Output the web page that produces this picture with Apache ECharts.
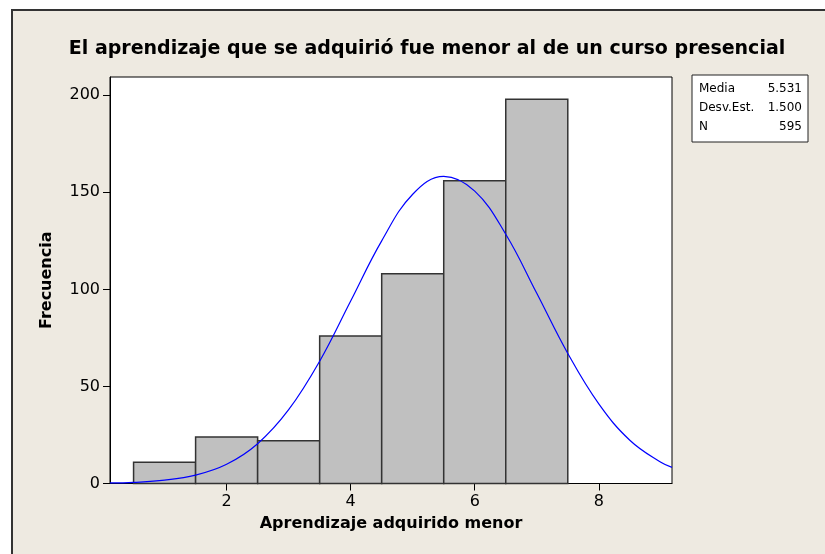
<!DOCTYPE html>
<html>
<head>
<meta charset="utf-8">
<script src="https://cdn.jsdelivr.net/npm/echarts@6/dist/echarts.min.js"></script>
<style>
html, body { margin: 0; padding: 0; background: #fff; }
#chart { width: 825px; height: 554px; }
</style>
</head>
<body>
<div id="chart"></div>
<script>
// histograma: centro de cada clase y frecuencia
var centros = [1, 2, 3, 4, 5, 6, 7];
var frecuencias = [11, 24, 22, 76, 108, 156, 198];

// curva normal ajustada
var curvaX = [0.12, 0.5, 1, 1.5, 2, 2.5, 3, 3.5, 4, 4.5, 5, 5.5, 6, 6.5, 7, 7.5, 8, 8.5, 9, 9.18];
var curvaY = [0.3, 0.6, 1.7, 4.3, 9.9, 20.5, 38, 63, 94, 125, 149, 158.2, 150.6, 128.4, 98, 67, 41, 22.3, 10.9, 8.3];

var ticksX = [2, 4, 6, 8];
var ticksY = [0, 50, 100, 150, 200];

var estadisticas = [
    ['Media', '5.531'],
    ['Desv.Est.', '1.500'],
    ['N', '595']
];

var myChart = echarts.init(document.getElementById('chart'));

var datosBarras = [];
for (var i = 0; i < centros.length; i++) {
    datosBarras.push([centros[i], frecuencias[i]]);
}
var datosCurva = [];
for (var j = 0; j < curvaX.length; j++) {
    datosCurva.push([curvaX[j], curvaY[j]]);
}

// cuadro de estadisticas
var cuadro = [{
    type: 'rect',
    shape: { x: 692, y: 75, width: 116, height: 67 },
    style: { fill: '#fff', stroke: '#222', lineWidth: 1 }
}];
for (var k = 0; k < estadisticas.length; k++) {
    cuadro.push({
        type: 'text', x: 699, y: 89 + k * 19,
        style: { text: estadisticas[k][0], font: '12px "DejaVu Sans"', fill: '#000', verticalAlign: 'middle' }
    });
    cuadro.push({
        type: 'text', x: 802, y: 89 + k * 19,
        style: { text: estadisticas[k][1], font: '12px "DejaVu Sans"', fill: '#000', align: 'right', verticalAlign: 'middle' }
    });
}

var option = {
    backgroundColor: '#fff',
    animation: false,
    graphic: [{
        type: 'rect',
        z: -10,
        shape: { x: 12, y: 10, width: 830, height: 560 },
        style: { fill: '#EEEAE1', stroke: '#333', lineWidth: 2 }
    }].concat(cuadro),
    title: {
        text: 'El aprendizaje que se adquirió fue menor al de un curso presencial',
        left: 422,
        top: 35,
        textAlign: 'center',
        textStyle: { fontFamily: 'DejaVu Sans', fontWeight: 'bold', fontSize: 19, color: '#000' }
    },
    grid: {
        left: 110, top: 77, right: 153, bottom: 70.5,
        show: true, backgroundColor: '#fff', borderColor: '#000', borderWidth: 1
    },
    xAxis: {
        type: 'value',
        min: 0.12,
        max: 9.18,
        name: 'Aprendizaje adquirido menor',
        nameLocation: 'middle',
        nameGap: 32,
        nameTextStyle: { fontFamily: 'DejaVu Sans', fontWeight: 'bold', fontSize: 16, color: '#000' },
        splitLine: { show: false },
        axisLine: { show: true, lineStyle: { color: '#000' } },
        axisTick: { show: true, inside: false, length: 7, customValues: ticksX, lineStyle: { color: '#000' } },
        axisLabel: { customValues: ticksX, fontFamily: 'DejaVu Sans', fontSize: 16, color: '#000', margin: 10 }
    },
    yAxis: {
        type: 'value',
        min: 0,
        max: 209.4,
        name: 'Frecuencia',
        nameLocation: 'middle',
        nameGap: 55,
        nameTextStyle: { fontFamily: 'DejaVu Sans', fontWeight: 'bold', fontSize: 16, color: '#000' },
        splitLine: { show: false },
        axisLine: { show: true, lineStyle: { color: '#000' } },
        axisTick: { show: true, inside: false, length: 7, customValues: ticksY, lineStyle: { color: '#000' } },
        axisLabel: { customValues: ticksY, fontFamily: 'DejaVu Sans', fontSize: 16, color: '#000', margin: 10 }
    },
    series: [{
        type: 'custom',
        data: datosBarras,
        renderItem: function (params, api) {
            var izq = api.coord([api.value(0) - 0.5, api.value(1)]);
            var der = api.coord([api.value(0) + 0.5, 0]);
            return {
                type: 'rect',
                shape: { x: izq[0], y: izq[1], width: der[0] - izq[0], height: der[1] - izq[1] },
                style: { fill: '#C0C0C0', stroke: '#333', lineWidth: 1.5 }
            };
        },
        z: 2
    }, {
        type: 'line',
        data: datosCurva,
        smooth: 0.4,
        showSymbol: false,
        lineStyle: { color: '#0000FF', width: 1.2 },
        z: 3
    }]
};

myChart.setOption(option);
</script>
</body>
</html>
